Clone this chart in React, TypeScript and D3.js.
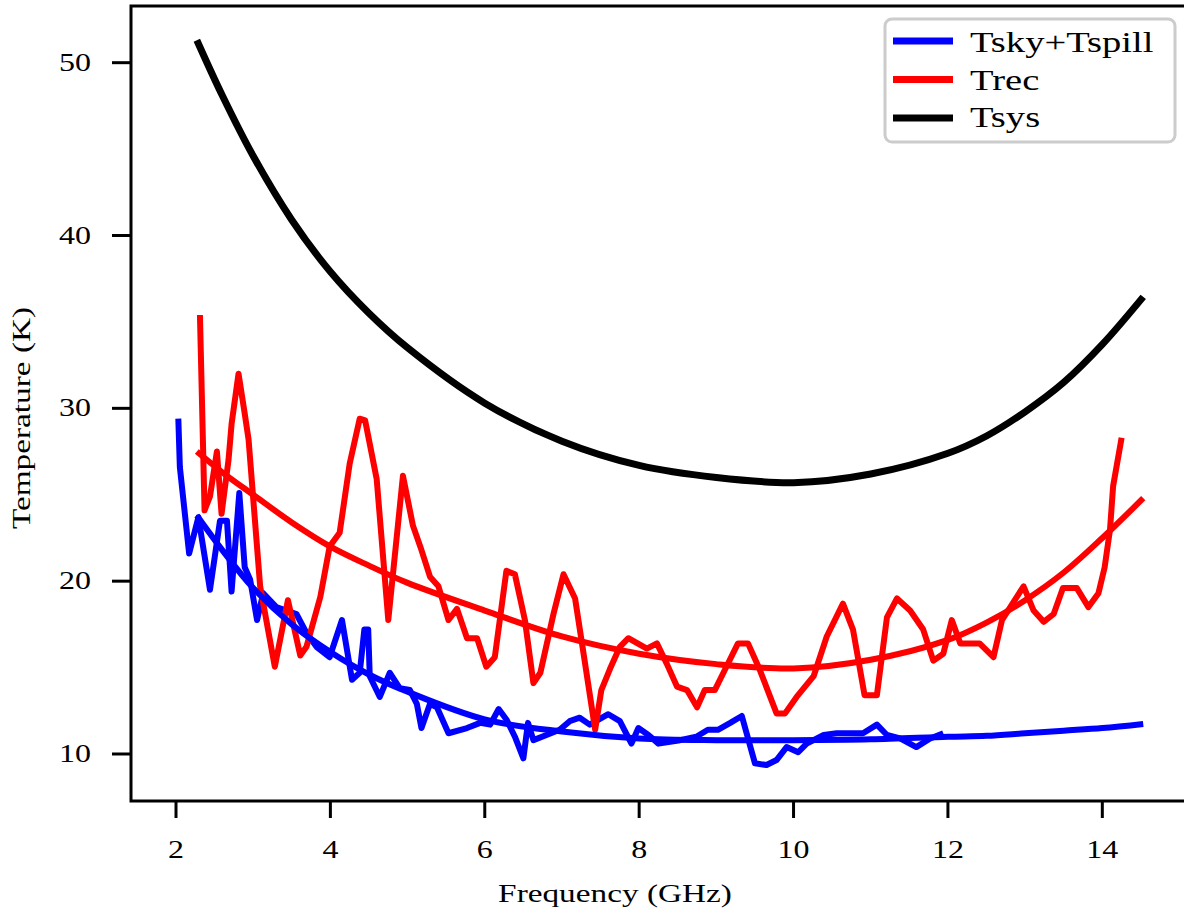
import * as d3 from "d3";

// Tsky + Tspill measured (noisy)
const skyFreq = [2.03, 2.05, 2.17, 2.29, 2.44, 2.57, 2.66, 2.72, 2.82, 2.89, 2.96, 3.05, 3.13, 3.3, 3.43, 3.56, 3.69, 3.82, 3.99, 4.15, 4.28, 4.38, 4.44, 4.49, 4.51, 4.64, 4.77, 4.9, 5.03, 5.12, 5.18, 5.29, 5.38, 5.53, 5.77, 5.94, 6.07, 6.18, 6.28, 6.39, 6.5, 6.56, 6.63, 6.8, 6.97, 7.1, 7.23, 7.36, 7.6, 7.75, 7.9, 7.99, 8.12, 8.25, 8.53, 8.74, 8.89, 9.02, 9.18, 9.33, 9.5, 9.65, 9.78, 9.91, 10.06, 10.17, 10.39, 10.56, 10.9, 11.08, 11.21, 11.38, 11.59, 11.77, 11.94];
const skyVals = [29.4, 26.6, 21.6, 23.7, 19.5, 23.5, 23.5, 19.4, 25.1, 20.8, 20.1, 17.75, 19.3, 18.5, 18.3, 18.1, 17.0, 16.2, 15.6, 17.75, 14.3, 14.7, 17.2, 17.2, 14.5, 13.3, 14.7, 13.8, 13.7, 12.9, 11.5, 12.9, 12.7, 11.2, 11.5, 11.8, 11.7, 12.6, 12.0, 11.0, 9.75, 11.8, 10.8, 11.1, 11.4, 11.9, 12.1, 11.7, 12.3, 11.9, 10.6, 11.5, 11.1, 10.6, 10.8, 11.0, 11.4, 11.4, 11.8, 12.2, 9.46, 9.36, 9.65, 10.4, 10.1, 10.6, 11.1, 11.2, 11.2, 11.7, 11.1, 10.9, 10.4, 10.9, 11.2];

// Trec measured (noisy)
const recFreq = [2.31, 2.37, 2.44, 2.53, 2.59, 2.68, 2.72, 2.81, 2.89, 2.94, 3.09, 3.28, 3.45, 3.61, 3.69, 3.87, 3.99, 4.12, 4.25, 4.38, 4.45, 4.6, 4.75, 4.94, 5.07, 5.18, 5.29, 5.4, 5.53, 5.64, 5.77, 5.9, 6.02, 6.13, 6.28, 6.39, 6.52, 6.63, 6.72, 6.89, 7.02, 7.17, 7.28, 7.43, 7.51, 7.62, 7.75, 7.86, 8.1, 8.23, 8.36, 8.49, 8.62, 8.75, 8.85, 8.98, 9.13, 9.28, 9.41, 9.56, 9.78, 9.89, 10.04, 10.26, 10.43, 10.64, 10.77, 10.92, 11.08, 11.21, 11.34, 11.51, 11.68, 11.81, 11.94, 12.05, 12.16, 12.41, 12.59, 12.7, 12.98, 13.11, 13.24, 13.37, 13.49, 13.67, 13.82, 13.95, 14.03, 14.1, 14.14, 14.25];
const recVals = [35.4, 24.1, 24.9, 27.5, 23.9, 27.0, 29.1, 32.0, 29.7, 28.2, 19.7, 15.05, 18.9, 15.7, 16.2, 19.1, 22.0, 22.8, 26.8, 29.4, 29.3, 25.9, 17.75, 26.1, 23.2, 21.8, 20.26, 19.7, 17.75, 18.4, 16.7, 16.7, 15.05, 15.6, 20.6, 20.4, 17.75, 14.1, 14.7, 18.1, 20.4, 19.0, 15.8, 11.4, 13.7, 14.9, 16.2, 16.7, 16.1, 16.4, 15.2, 13.9, 13.7, 12.7, 13.7, 13.7, 15.05, 16.4, 16.4, 14.9, 12.35, 12.35, 13.3, 14.5, 16.8, 18.7, 17.2, 13.4, 13.4, 17.9, 19.0, 18.3, 17.2, 15.4, 15.8, 17.75, 16.4, 16.4, 15.6, 17.75, 19.7, 18.3, 17.65, 18.1, 19.6, 19.6, 18.5, 19.3, 20.8, 23.0, 25.5, 28.3];

// fitted curves
const fitFreq = [2.27, 2.6, 3.0, 3.5, 4.0, 4.5, 5.0, 6.0, 7.0, 8.0, 9.0, 10.0, 11.0, 12.0, 12.5, 13.0, 13.5, 14.0, 14.53];
const skyFit = [23.8, 21.8, 19.6, 17.5, 15.9, 14.6, 13.6, 12.0, 11.3, 10.9, 10.8, 10.8, 10.85, 11.0, 11.05, 11.2, 11.35, 11.5, 11.74];
const recFit = [27.5, 26.3, 25.0, 23.4, 22.0, 20.9, 19.9, 18.3, 16.8, 15.8, 15.2, 14.95, 15.45, 16.6, 17.6, 18.9, 20.5, 22.5, 24.8];
const sysVals = [51.3, 48.1, 44.6, 40.9, 37.9, 35.5, 33.5, 30.3, 28.1, 26.7, 26.0, 25.7, 26.2, 27.4, 28.4, 29.8, 31.5, 33.7, 36.45];

const xTicks = [2, 4, 6, 8, 10, 12, 14];
const yTicks = [10, 20, 30, 40, 50];
const legendItems = [
  { label: "Tsky+Tspill", color: "#0000ff" },
  { label: "Trec", color: "#ff0000" },
  { label: "Tsys", color: "#000000" },
];

const W = 1184;
const H = 915;
const plot = { left: 131, top: 6, right: 1188, bottom: 801 };
const FONT = "'Liberation Serif', serif";

const Txt = ({ x, y, anchor = "start", size = 25, rotate = 0, sx = 1.28, children }: any) => (
  <text
    transform={`translate(${x},${y}) rotate(${rotate}) scale(${sx},1)`}
    textAnchor={anchor}
    fontFamily={FONT}
    fontSize={size}
    fill="#000"
  >
    {children}
  </text>
);

export default function App() {
  const x = d3.scaleLinear().domain([1.417, 15.11]).range([plot.left, plot.right]);
  const y = d3.scaleLinear().domain([7.28, 53.28]).range([plot.bottom, plot.top]);

  const mk = (xs: number[], ys: number[], smooth: boolean) =>
    d3
      .line<number>()
      .x((d) => x(d))
      .y((_, i) => y(ys[i]))
      .curve(smooth ? d3.curveCatmullRom : d3.curveLinear)(xs) as string;

  return (
    <svg width={W} height={H} style={{ position: "absolute", left: 0, top: 0, background: "#fff" }}>
      <rect width={W} height={H} fill="#fff" />
      <g fill="none" strokeLinejoin="round" strokeLinecap="butt">
        <path d={mk(skyFreq, skyVals, false)} stroke="#0000ff" strokeWidth={6} />
        <path d={mk(recFreq, recVals, false)} stroke="#ff0000" strokeWidth={6} />
        <path d={mk(fitFreq, skyFit, true)} stroke="#0000ff" strokeWidth={6} />
        <path d={mk(fitFreq, recFit, true)} stroke="#ff0000" strokeWidth={6} />
        <path d={mk(fitFreq, sysVals, true)} stroke="#000" strokeWidth={7} />
      </g>

      {/* frame */}
      <rect
        x={plot.left}
        y={plot.top}
        width={plot.right - plot.left}
        height={plot.bottom - plot.top}
        fill="none"
        stroke="#000"
        strokeWidth={3}
      />

      {xTicks.map((t) => (
        <g key={t}>
          <line x1={x(t)} x2={x(t)} y1={plot.bottom} y2={plot.bottom + 17} stroke="#000" strokeWidth={3} />
          <Txt x={x(t)} y={858} anchor="middle">{t}</Txt>
        </g>
      ))}
      {yTicks.map((t) => (
        <g key={t}>
          <line x1={plot.left - 19} x2={plot.left} y1={y(t)} y2={y(t)} stroke="#000" strokeWidth={3} />
          <Txt x={91} y={y(t) + 8} anchor="end">{t}</Txt>
        </g>
      ))}

      <Txt x={615} y={902} anchor="middle" size={26}>Frequency (GHz)</Txt>
      <Txt x={30} y={418} anchor="middle" size={26} rotate={-90}>Temperature (K)</Txt>

      {/* legend */}
      <rect x={885} y={19} width={290} height={123} rx={7} fill="#fff" stroke="#cccccc" strokeWidth={3} />
      {legendItems.map((it, i) => (
        <g key={it.label}>
          <line x1={893} x2={953} y1={41 + i * 38.5} y2={41 + i * 38.5} stroke={it.color} strokeWidth={7} />
          <Txt x={970} y={52 + i * 37.5} size={29} sx={1.33}>{it.label}</Txt>
        </g>
      ))}
    </svg>
  );
}
